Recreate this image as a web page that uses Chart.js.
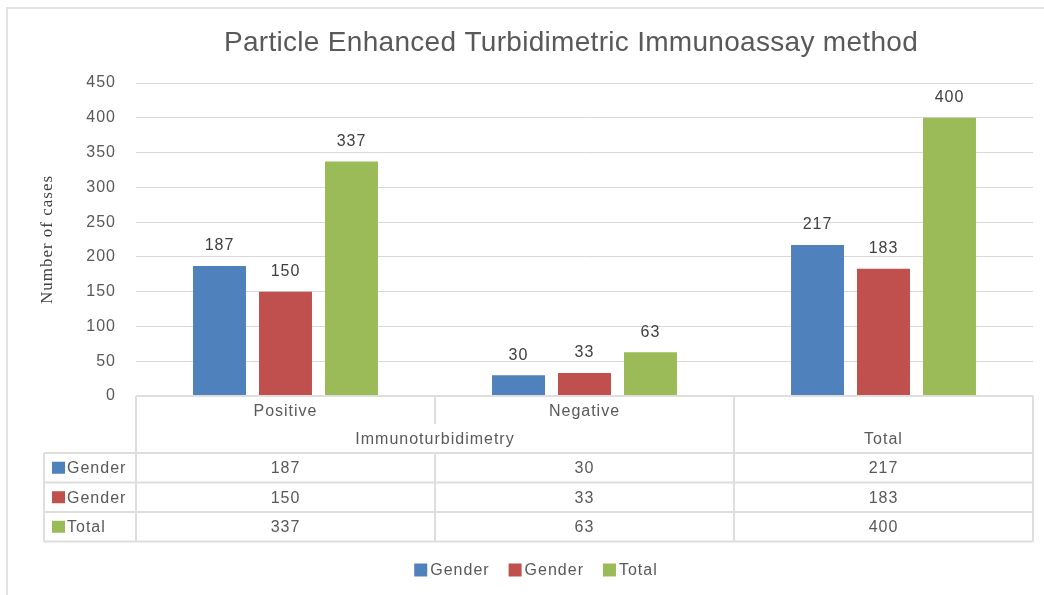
<!DOCTYPE html>
<html><head><meta charset="utf-8">
<script src="https://cdn.jsdelivr.net/npm/chart.js@4"></script>
<style>html,body{margin:0;padding:0;background:#fff}#wrap{width:1044px;height:595px}</style>
</head><body><div id="wrap"><canvas id="c" width="1044" height="595"></canvas></div>
<script>
const chartTitle = 'Particle Enhanced Turbidimetric Immunoassay method';
const yAxisTitle = 'Number of cases';
const subLabels = ['Positive', 'Negative', ''];
const groupLabels = ['Immunoturbidimetry', 'Immunoturbidimetry', 'Total'];
const seriesNames = ['Gender', 'Gender', 'Total'];
const genderA = [187, 30, 217];
const genderB = [150, 33, 183];
const totals = [337, 63, 400];
const seriesColors = ['#4F81BD', '#C0504D', '#9BBB59'];
const yMin = 0, yMax = 450, yStep = 50;

const SANS = '"Liberation Sans", Arial, sans-serif';
const TXT = '#595959';
const LINE = '#dedede';

const seriesData = [genderA, genderB, totals];

const decor = {
  id: 'decor',
  beforeDraw(chart) {
    const ctx = chart.ctx;
    ctx.save();
    ctx.fillStyle = '#fff';
    ctx.fillRect(0, 0, chart.width, chart.height);
    ctx.fillStyle = '#e3e3e3';
    ctx.fillRect(6, 7, chart.width - 6, 2);
    ctx.fillRect(6, 7, 2, chart.height - 7);
    ctx.fillStyle = TXT;
    ctx.font = '28px ' + SANS;
    ctx.letterSpacing = '0.3px';
    ctx.textAlign = 'center';
    ctx.textBaseline = 'alphabetic';
    ctx.fillText(chartTitle, 571, 51);
    ctx.restore();
    ctx.letterSpacing = '1px';
  },
  afterDatasetsDraw(chart) {
    const ctx = chart.ctx;
    ctx.save();
    ctx.letterSpacing = '1px';
    ctx.font = '16px ' + SANS;
    ctx.fillStyle = '#404040';
    ctx.textAlign = 'center';
    ctx.textBaseline = 'middle';
    chart.data.datasets.forEach((ds, di) => {
      chart.getDatasetMeta(di).data.forEach((el, i) => {
        ctx.fillText(String(ds.data[i]), el.x, el.y - 20);
      });
    });
    ctx.restore();
  },
  afterDraw(chart) {
    const ctx = chart.ctx;
    const a = chart.chartArea;
    const L = a.left, R = a.right, T = a.bottom;
    const n = subLabels.length;
    const colW = (R - L) / n;
    const headH = 57, rowH = 29.5, keyL = 44;
    const bottom = T + headH + rowH * seriesNames.length;
    ctx.save();
    ctx.letterSpacing = '1px';
    ctx.strokeStyle = LINE;
    ctx.lineWidth = 2;
    const line = (x1, y1, x2, y2) => { ctx.beginPath(); ctx.moveTo(x1, y1); ctx.lineTo(x2, y2); ctx.stroke(); };
    line(L, T, R, T);
    for (let r = 0; r <= seriesNames.length; r++) line(keyL, T + headH + r * rowH, R, T + headH + r * rowH);
    line(L, T, L, bottom);
    line(R, T, R, bottom);
    line(keyL, T + headH, keyL, bottom);
    for (let i = 1; i < n; i++) {
      const x = L + i * colW;
      if (groupLabels[i] === groupLabels[i - 1]) {
        line(x, T, x, T + 28);
        line(x, T + headH, x, bottom);
      } else line(x, T, x, bottom);
    }
    ctx.font = '16px ' + SANS;
    ctx.fillStyle = TXT;
    ctx.textAlign = 'center';
    ctx.textBaseline = 'middle';
    for (let i = 0; i < n; i++) {
      const cx = L + (i + 0.5) * colW;
      if (subLabels[i]) ctx.fillText(subLabels[i], cx, T + 16);
    }
    let s = 0;
    for (let i = 1; i <= n; i++) {
      if (i === n || groupLabels[i] !== groupLabels[s]) {
        const cx = L + ((s + i) / 2) * colW;
        ctx.fillText(groupLabels[s], cx, T + 44);
        s = i;
      }
    }
    seriesNames.forEach((name, r) => {
      const cy = T + headH + rowH * (r + 0.5);
      ctx.fillStyle = seriesColors[r];
      ctx.fillRect(52, cy - 6, 13, 12);
      ctx.fillStyle = TXT;
      ctx.textAlign = 'left';
      ctx.fillText(name, 67, cy + 1);
      ctx.textAlign = 'center';
      seriesData[r].forEach((v, i) => ctx.fillText(String(v), L + (i + 0.5) * colW, cy + 1));
    });
    // legend
    const box = 13, gapBT = 3, gapItem = 19;
    const widths = seriesNames.map(nm => ctx.measureText(nm).width);
    const total = widths.reduce((p, w) => p + box + gapBT + w, 0) + gapItem * (seriesNames.length - 1);
    let x = 536 - total / 2;
    const ly = 570;
    ctx.textAlign = 'left';
    seriesNames.forEach((nm, r) => {
      ctx.fillStyle = seriesColors[r];
      ctx.fillRect(x, ly - 6.5, box, box);
      ctx.fillStyle = TXT;
      ctx.fillText(nm, x + box + gapBT, ly + 1);
      x += box + gapBT + widths[r] + gapItem;
    });
    ctx.restore();
    ctx.letterSpacing = '0px';
  }
};

new Chart(document.getElementById('c'), {
  type: 'bar',
  data: {
    labels: subLabels.map((s, i) => s || groupLabels[i]),
    datasets: seriesNames.map((nm, i) => ({
      label: nm,
      data: seriesData[i],
      backgroundColor: seriesColors[i],
      borderWidth: 0,
      categoryPercentage: 0.662,
      barPercentage: 0.803
    }))
  },
  options: {
    responsive: false,
    animation: false,
    devicePixelRatio: 1,
    layout: { padding: { top: 83, bottom: 199, left: 37, right: 11 } },
    plugins: { legend: { display: false }, title: { display: false }, tooltip: { enabled: false } },
    scales: {
      x: { display: false },
      y: {
        min: yMin, max: yMax,
        afterFit(scale) { scale.width = 99; },
        border: { display: false },
        grid: { color: '#d9d9d9', lineWidth: 1, drawTicks: false },
        ticks: { stepSize: yStep, padding: 20, color: TXT, font: { family: SANS, size: 16 } },
        title: { display: true, text: yAxisTitle, color: '#404040', padding: 0,
                 font: { family: '"Liberation Serif", "Times New Roman", serif', size: 17 } }
      }
    }
  },
  plugins: [decor]
});
</script>
</body></html>
